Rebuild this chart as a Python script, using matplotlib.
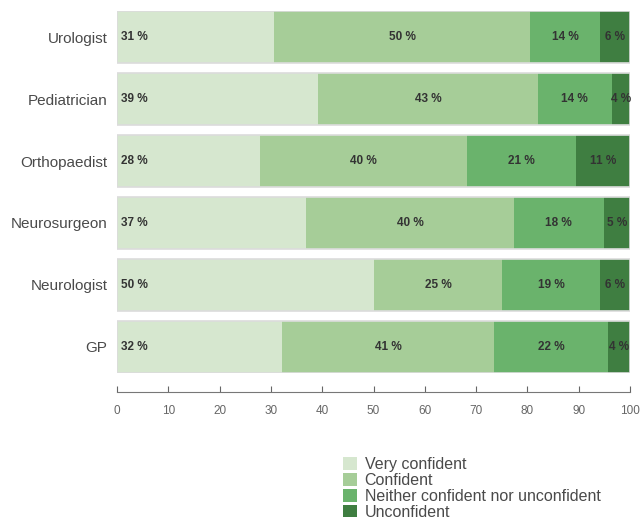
import numpy as np
import matplotlib
matplotlib.use("Agg")
import matplotlib.pyplot as plt

plt.rcParams['font.family'] = ['Liberation Sans', 'DejaVu Sans']

# data, top row first
categories = ['Urologist', 'Pediatrician', 'Orthopaedist', 'Neurosurgeon', 'Neurologist', 'GP']
very_confident = [30.6, 39.1, 27.9, 36.9, 50.0, 32.2]
confident = [50.0, 43.0, 40.4, 40.4, 25.1, 41.3]
neither = [13.6, 14.3, 21.1, 17.6, 19.1, 22.2]
unconfident = [5.8, 3.6, 10.6, 5.1, 5.8, 4.3]

series_names = ['Very confident', 'Confident', 'Neither confident nor unconfident', 'Unconfident']
colors = ['#d6e7cf', '#a6cd98', '#6ab36c', '#3f7e41']
xticks = [0, 10, 20, 30, 40, 50, 60, 70, 80, 90, 100]

series = [very_confident, confident, neither, unconfident]
n = len(categories)
ypos = np.arange(n)[::-1]
h = 0.84

fig = plt.figure(figsize=(6.41, 5.30), dpi=100)
W, H = 641, 530
ax = fig.add_axes([117 / W, 1 - 373 / H, (630 - 117) / W, (373 - 11) / H])

left = np.zeros(n)
handles = []
for k, (vals, col, name) in enumerate(zip(series, colors, series_names)):
    vals = np.array(vals)
    b = ax.barh(ypos, vals, left=left, height=h, color=col, edgecolor='none', label=name)
    handles.append(b)
    for y, l, v in zip(ypos, left, vals):
        if k == 0:
            ax.text(l + 0.8, y, f'{v:.0f} %', ha='left', va='center',
                    fontsize=8.5, fontweight='bold', color='#333333')
        else:
            ax.text(l + v / 2, y, f'{v:.0f} %', ha='center', va='center',
                    fontsize=8.5, fontweight='bold', color='#333333')
    left = left + vals

# light frame round each bar
ax.barh(ypos, [100] * n, height=h, color='none', edgecolor='#dcdcdc', linewidth=1.2)

ax.set_xlim(0, 100)
ax.set_ylim(-h / 2, n - 1 + h / 2)
ax.set_yticks(ypos)
ax.set_yticklabels(categories, fontsize=11, color='#4a4a4a')
ax.tick_params(axis='y', length=0, pad=7)
ax.set_xticks(xticks)
ax.tick_params(axis='x', direction='in', length=4, color='#666666',
               labelsize=8.5, labelcolor='#666666', pad=9)
for s in ['top', 'right', 'left']:
    ax.spines[s].set_visible(False)
ax.spines['bottom'].set_position(('outward', 14))
ax.spines['bottom'].set_color('#777777')
ax.spines['bottom'].set_linewidth(0.8)

fig.legend(handles=handles, labels=series_names, loc='upper left',
           bbox_to_anchor=(332 / W, 1 - 446 / H), frameon=False, fontsize=11.5,
           handlelength=0.85, handleheight=0.85, handletextpad=0.5,
           labelspacing=0.05, borderpad=0.2, labelcolor='#4a4a4a')

fig.savefig('out.png', dpi=100)
plt.close(fig)
